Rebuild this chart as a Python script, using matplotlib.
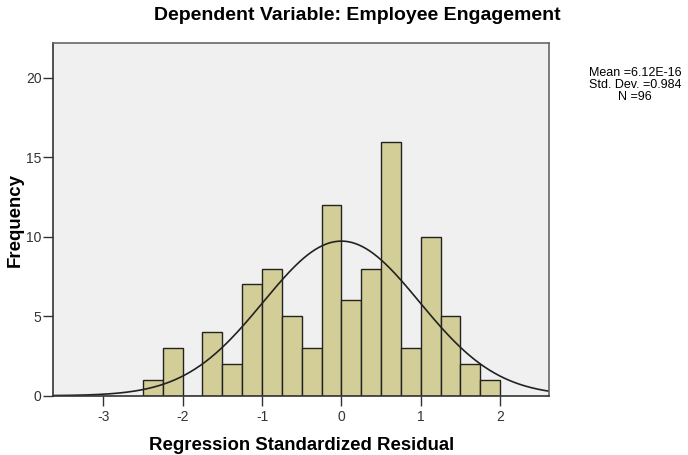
import matplotlib.pyplot as plt
import numpy as np

plt.rcParams['font.family'] = ['Liberation Sans', 'DejaVu Sans']

# histogram of standardized residuals (bin width 0.25)
bin_edges = [-2.5, -2.25, -2.0, -1.75, -1.5, -1.25, -1.0, -0.75, -0.5, -0.25,
             0.0, 0.25, 0.5, 0.75, 1.0, 1.25, 1.5, 1.75, 2.0]
counts = [1, 3, 0, 4, 2, 7, 8, 5, 3, 12, 6, 8, 16, 3, 10, 5, 2, 1]
mean, sd, n = 6.12e-16, 0.984, 96
x_ticks = [-3, -2, -1, 0, 1, 2]
y_ticks = [0, 5, 10, 15, 20]

fig = plt.figure(figsize=(6.88, 4.55), dpi=100)
ax = fig.add_axes([53.3/688, 59.3/455, 496/688, 353/455])
ax.set_facecolor('#f0f0f0')

lefts = np.array(bin_edges[:-1])
widths = np.diff(bin_edges)
ax.bar(lefts, counts, width=widths, align='edge', color='#d3ce97',
       edgecolor='#222222', linewidth=1.0)

# normal curve scaled to counts
xs = np.linspace(-3.7, 2.7, 400)
bw = widths[0]
ys = n * bw / (sd * np.sqrt(2 * np.pi)) * np.exp(-0.5 * ((xs - mean) / sd) ** 2)
ax.plot(xs, ys, color='#222222', linewidth=1.2)

ax.set_xlim(-3.63, 2.62)
ax.set_ylim(0, 22.22)
ax.set_xticks(x_ticks)
ax.set_xticklabels([str(t) for t in x_ticks])
ax.set_yticks(y_ticks)
ax.tick_params(axis='both', labelsize=10, length=7, color='#333333',
               labelcolor='#333333', width=1)
ax.tick_params(axis='y', pad=1.5)
ax.tick_params(axis='x', pad=3)
for s in ax.spines.values():
    s.set_color('#666666')
    s.set_linewidth(1.2)
ax.spines['left'].set_color('#333333')
ax.spines['bottom'].set_color('#333333')

ax.set_xlabel('Regression Standardized Residual', fontsize=13.4, fontweight='bold',
              labelpad=10)
fig.text(15/688, 1 - 220/455, 'Frequency', fontsize=13.4, fontweight='bold',
         rotation=90, ha='center', va='center')

fig.text(357/688, 1 - 16/455, 'Dependent Variable: Employee Engagement',
         fontsize=14, fontweight='bold', ha='center', va='center')
fig.text(635/688, 1 - 85/455,
         'Mean =6.12E-16\nStd. Dev. =0.984\nN =96',
         fontsize=9, ha='center', va='center', linespacing=0.95)

fig.savefig('out.png', dpi=100)
